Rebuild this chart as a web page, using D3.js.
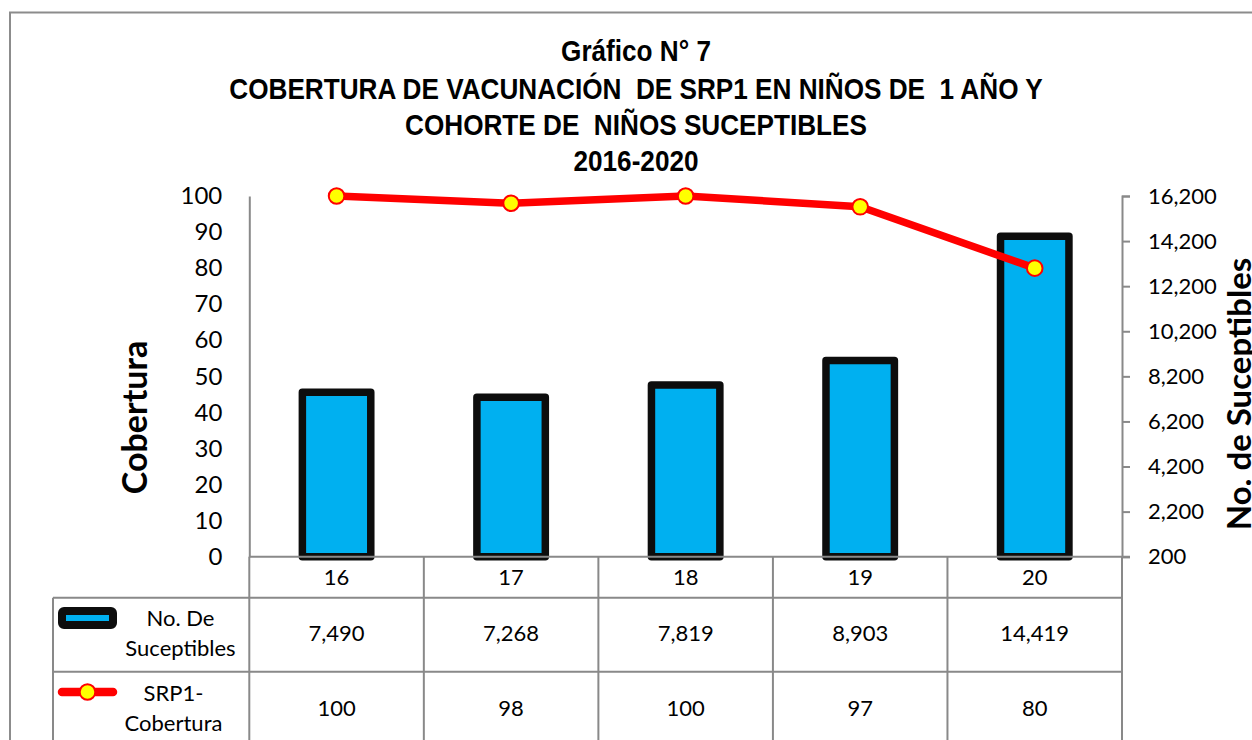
<!DOCTYPE html>
<html><head><meta charset="utf-8">
<script src="https://cdn.jsdelivr.net/npm/d3@7"></script>
<style>
html,body{margin:0;padding:0;background:#fff;}
svg{display:block;}
</style></head>
<body>
<svg id="chart" width="1252" height="740"></svg>
<script>
const categories = ["16", "17", "18", "19", "20"];
const suceptibles = [7490, 7268, 7819, 8903, 14419];
const cobertura = [100, 98, 100, 97, 80];
const leftTicks = [0, 10, 20, 30, 40, 50, 60, 70, 80, 90, 100];
const rightTicks = [200, 2200, 4200, 6200, 8200, 10200, 12200, 14200, 16200];
const titleLines = ["Gráfico N° 7", "COBERTURA DE VACUNACIÓN  DE SRP1 EN NIÑOS DE  1 AÑO Y", "COHORTE DE  NIÑOS SUCEPTIBLES", "2016-2020"];
const seriesNames = [["No. De", "Suceptibles"], ["SRP1-", "Cobertura"]];

const svg = d3.select("#chart");
const FONT = "Lato, 'Open Sans', sans-serif";
const TFONT = "'Liberation Sans Narrow', 'Arial Narrow', 'Liberation Sans', sans-serif";
const GRAY = "#898989";

const X0 = 249.3, X1 = 1122, Y0 = 196, Y1 = 556.7;
const tableLeft = 53, row1 = 597.7, row2 = 671.7, tableBottom = 760;

// outer chart border
svg.append("rect").attr("x", 10).attr("y", 12.5).attr("width", 1300).attr("height", 800)
  .attr("fill", "none").attr("stroke", "#8c8c8c").attr("stroke-width", 2);

// title (condensed bold, scaled horizontally to the reference width)
const tg = svg.append("g");
const tl = tg.append("text").attr("font-family", TFONT).attr("font-weight", "bold")
  .attr("font-size", 30).attr("text-anchor", "middle").attr("fill", "#000")
  .attr("xml:space", "preserve");
const baselines = [61, 99, 135, 171];
const spans = titleLines.map((t, i) =>
  tl.append("tspan").attr("x", 0).attr("y", baselines[i]).text(t));
const w2 = spans[1].node().getComputedTextLength();
const sx = 814 / w2;
tg.attr("transform", `translate(636,0) scale(${sx},1)`);

const x = d3.scaleBand().domain(categories).range([X0, X1]).paddingInner(0.608).paddingOuter(0.304);
const xc = d3.scaleBand().domain(categories).range([X0, X1]);
const yL = d3.scaleLinear().domain([0, 100]).range([Y1, Y0]);
const yR = d3.scaleLinear().domain([200, 16200]).range([Y1, Y0]);

// bars
svg.append("g").selectAll("rect").data(suceptibles).join("rect")
  .attr("x", (d, i) => x(categories[i]))
  .attr("y", d => yR(d))
  .attr("width", x.bandwidth())
  .attr("height", d => yR(200) - yR(d))
  .attr("fill", "#00B0F0").attr("stroke", "#0d0d0d").attr("stroke-width", 7.5)
  .attr("stroke-linejoin", "round");

// table grid lines
const grid = svg.append("g").attr("stroke", GRAY).attr("stroke-width", 2);
grid.append("line").attr("x1", tableLeft).attr("x2", X1).attr("y1", row1).attr("y2", row1);
grid.append("line").attr("x1", tableLeft).attr("x2", X1).attr("y1", row2).attr("y2", row2);
grid.append("line").attr("x1", tableLeft).attr("x2", tableLeft).attr("y1", row1).attr("y2", tableBottom);
categories.slice(1).forEach(c => {
  grid.append("line").attr("x1", xc(c)).attr("x2", xc(c)).attr("y1", Y1).attr("y2", tableBottom);
});
grid.append("line").attr("x1", X0).attr("x2", X0).attr("y1", Y1).attr("y2", tableBottom);
grid.append("line").attr("x1", X1).attr("x2", X1).attr("y1", Y1).attr("y2", tableBottom);

// left axis
const gL = svg.append("g").attr("transform", `translate(${X0},0)`)
  .call(d3.axisLeft(yL).tickValues(leftTicks).tickSize(0).tickPadding(27));
gL.select(".domain").attr("stroke", GRAY).attr("stroke-width", 2);
gL.selectAll("text").attr("font-family", FONT).attr("font-size", 24).attr("fill", "#000");

// right axis
const gR = svg.append("g").attr("transform", `translate(${X1},0)`)
  .call(d3.axisRight(yR).tickValues(rightTicks).tickSize(8).tickPadding(18).tickFormat(d3.format(",")));
gR.select(".domain").attr("stroke", GRAY).attr("stroke-width", 2);
gR.selectAll(".tick line").attr("stroke", GRAY).attr("stroke-width", 2);
gR.selectAll("text").attr("font-family", FONT).attr("font-size", 22).attr("fill", "#000");

// category axis line
svg.append("line").attr("x1", X0).attr("x2", X1 + 8).attr("y1", Y1).attr("y2", Y1)
  .attr("stroke", GRAY).attr("stroke-width", 2);

// line series
const line = d3.line().x((d, i) => xc(categories[i]) + xc.bandwidth() / 2).y(d => yL(d));
svg.append("path").datum(cobertura).attr("d", line).attr("fill", "none")
  .attr("stroke", "#ff0000").attr("stroke-width", 7.5).attr("stroke-linecap", "round").attr("stroke-linejoin", "round");
svg.append("g").selectAll("circle").data(cobertura).join("circle")
  .attr("cx", (d, i) => xc(categories[i]) + xc.bandwidth() / 2)
  .attr("cy", d => yL(d)).attr("r", 7.8)
  .attr("fill", "#ffff00").attr("stroke", "#ff0000").attr("stroke-width", 2);

// axis titles
svg.append("text").attr("transform", "translate(147,417.5) rotate(-90)")
  .attr("text-anchor", "middle").attr("font-family", FONT).attr("font-weight", "bold")
  .attr("font-size", 34).attr("fill", "#000").text("Cobertura");
svg.append("text").attr("transform", "translate(1251,394) rotate(-90)")
  .attr("text-anchor", "middle").attr("font-family", FONT).attr("font-weight", "bold")
  .attr("font-size", 33).attr("fill", "#000").text("No. de Suceptibles");

// table texts
const tt = svg.append("g").attr("font-family", FONT).attr("font-size", 22).attr("fill", "#000").attr("text-anchor", "middle");
categories.forEach((c, i) => {
  const cx = xc(c) + xc.bandwidth() / 2;
  tt.append("text").attr("x", cx).attr("y", 585).text(c);
  tt.append("text").attr("x", cx).attr("y", 641).text(d3.format(",")(suceptibles[i]));
  tt.append("text").attr("x", cx).attr("y", 716).text(cobertura[i]);
});
tt.append("text").attr("x", 180.5).attr("y", 626).text(seriesNames[0][0]);
tt.append("text").attr("x", 180.5).attr("y", 656).text(seriesNames[0][1]);
tt.append("text").attr("x", 173.5).attr("y", 701).text(seriesNames[1][0]);
tt.append("text").attr("x", 173.5).attr("y", 731).text(seriesNames[1][1]);

// legend keys
svg.append("rect").attr("x", 62).attr("y", 611).attr("width", 51).attr("height", 14).attr("rx", 2)
  .attr("fill", "#00B0F0").attr("stroke", "#0d0d0d").attr("stroke-width", 8).attr("stroke-linejoin", "round");
svg.append("line").attr("x1", 62).attr("x2", 113).attr("y1", 692).attr("y2", 692)
  .attr("stroke", "#ff0000").attr("stroke-width", 8.5).attr("stroke-linecap", "round");
svg.append("circle").attr("cx", 87.5).attr("cy", 692).attr("r", 7.8)
  .attr("fill", "#ffff00").attr("stroke", "#ff0000").attr("stroke-width", 2);
</script>
</body></html>
